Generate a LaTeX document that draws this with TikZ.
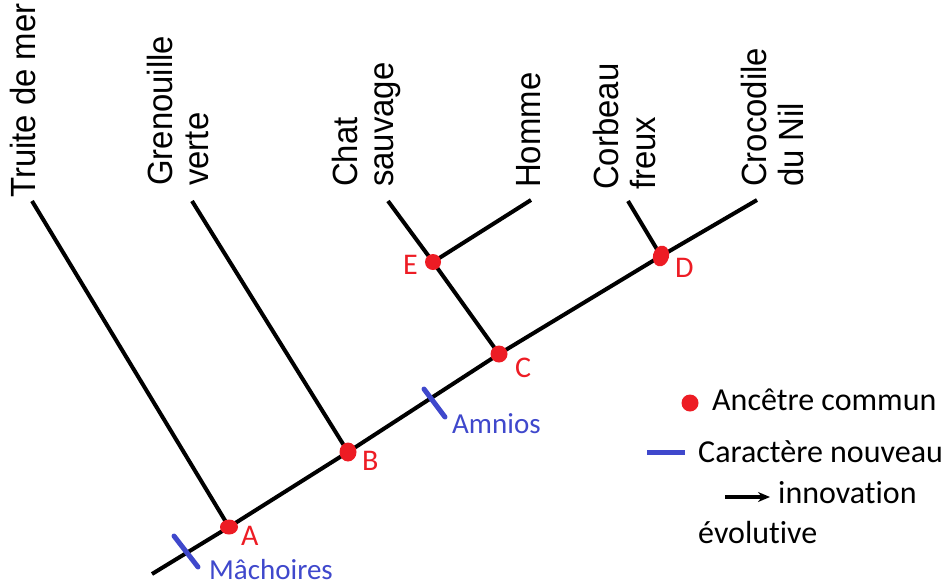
\documentclass[tikz,border=0pt]{standalone}
\usepackage{fontspec}
\usepackage{graphicx}
\newfontfamily\arialf{Liberation Sans}
\newfontfamily\calf[Ligatures=NoCommon]{Carlito}
\usetikzlibrary{shapes.geometric,arrows.meta}
\definecolor{pred}{RGB}{237,28,36}
\definecolor{pblue}{RGB}{63,72,204}
\tikzset{
  branch/.style={line width=4pt, draw=black},
  dot/.style={circle, fill=pred, inner sep=0pt, minimum size=17pt},
  taxon/.style={rotate=90, anchor=base west, inner sep=0pt, font=\arialf\fontsize{35}{36}\selectfont},
  letter/.style={anchor=base west, inner sep=0pt, text=pred, font=\calf\fontsize{30}{36}\selectfont},
  trait/.style={line width=5pt, draw=pblue, line cap=round},
  traitlbl/.style={anchor=base west, inner sep=0pt, text=pblue, font=\calf\fontsize{29}{34}\selectfont},
  legendtxt/.style={anchor=base west, inner sep=0pt, font=\calf\fontsize{32}{38}\selectfont},
}
\newcommand{\twolines}[2]{\scalebox{0.94}[1]{\begin{tabular}[b]{@{}l@{}}#1\\#2\end{tabular}}}
\begin{document}
\begin{tikzpicture}[x=1pt,y=-1pt]
\useasboundingbox (0,0) rectangle (951,582);
% taxa labels
\node[taxon] (truite) at (35,198) {\scalebox{0.94}[1]{Truite de mer}};
\node[taxon] (gren) at (208,186) {\twolines{Grenouille}{verte}};
\node[taxon] (chat) at (393,187) {\twolines{Chat}{sauvage}};
\node[taxon] (homme) at (540,188) {\scalebox{0.94}[1]{Homme}};
\node[taxon] (corbeau) at (655,190) {\twolines{Corbeau}{freux}};
\node[taxon] (croco) at (803,187) {\twolines{Crocodile}{du Nil}};
% branch tips
\coordinate (tTruite) at (32,201);
\coordinate (tGren) at (192,201);
\coordinate (tChat) at (388,201);
\coordinate (tHomme) at (531,200);
\coordinate (tCorbeau) at (628,201);
\coordinate (tCroco) at (757,200);
\coordinate (root) at (152,574);
% ancestors
\coordinate (pA) at (229,527);
\coordinate (pB) at (348,452);
\coordinate (pC) at (499,354);
\coordinate (pD) at (661,256);
\coordinate (pE) at (433,262);
% branches
\draw[branch] (root) -- (pA) -- (pB) -- (pC) -- (pD) -- (tCroco);
\draw[branch] (tTruite) -- (pA);
\draw[branch] (tGren) -- (pB);
\draw[branch] (pC) -- (pE) -- (tChat);
\draw[branch] (pE) -- (tHomme);
\draw[branch] (tCorbeau) -- (pD);
% dots
\node[dot, ellipse, minimum width=18pt, minimum height=15pt] (A) at (pA) {};
\node[dot, minimum width=17pt, minimum height=19pt, ellipse] (B) at (pB) {};
\node[dot] (C) at (pC) {};
\node[dot, ellipse, minimum width=16pt, minimum height=21pt, rotate=-15] (D) at (pD) {};
\node[dot, minimum size=16pt] (E) at (pE) {};
% letters
\node[letter] (lA) at (241,545) {A};
\node[letter] (lB) at (362,470) {B};
\node[letter] (lC) at (515,377) {C};
\node[letter] (lD) at (675,277) {D};
\node[letter] (lE) at (403,274) {E};
% traits
\coordinate (m1) at (174,536);
\coordinate (m2) at (198,567);
\draw[trait] (m1) -- (m2);
\node[traitlbl] (mach) at (209,579) {Mâchoires};
\coordinate (n1) at (424,389);
\coordinate (n2) at (445,417);
\draw[trait] (n1) -- (n2);
\node[traitlbl] (amnios) at (452,433) {Amnios};
% legend
\node[dot] (legdot) at (690,403) {};
\node[legendtxt] (leg1) at (712,410) {Ancêtre commun};
\coordinate (lb1) at (647,452);
\coordinate (lb2) at (685,452);
\draw[line width=5pt, draw=pblue] (lb1) -- (lb2);
\node[legendtxt] (leg2) at (698,462) {Caractère nouveau};
\coordinate (la1) at (725,497);
\coordinate (la2) at (770,497);
\draw[line width=3.5pt, -{Stealth[length=12pt,width=10pt]}] (la1) -- (la2);
\node[legendtxt] (leg3) at (778,503) {innovation};
\node[legendtxt] (leg4) at (698,543) {évolutive};
\end{tikzpicture}
\end{document}
